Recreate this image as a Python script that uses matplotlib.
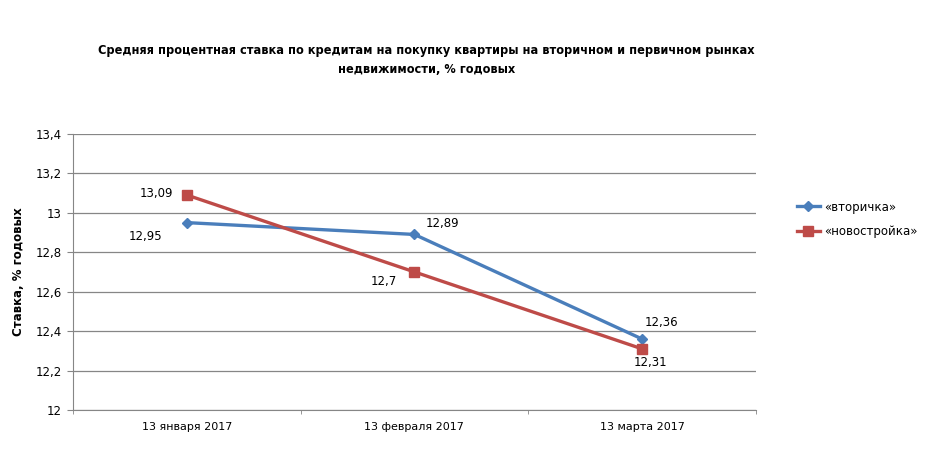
import matplotlib
matplotlib.use("Agg")
import matplotlib.pyplot as plt
from matplotlib.ticker import FixedLocator

# data
dates = ["13 января 2017", "13 февраля 2017", "13 марта 2017"]
vtorichka = [12.95, 12.89, 12.36]
novostroyka = [13.09, 12.7, 12.31]
yticks = [12, 12.2, 12.4, 12.6, 12.8, 13, 13.2, 13.4]
ytick_labels = ["12", "12,2", "12,4", "12,6", "12,8", "13", "13,2", "13,4"]

blue = "#4A7EBB"
red = "#BE4B48"

plt.rcParams["font.family"] = ["DejaVu Sans"]

fig = plt.figure(figsize=(9.38, 4.72), dpi=100)
ax = fig.add_axes([0.0778, 0.1314, 0.728, 0.585])

x = list(range(len(dates)))
ax.plot(x, vtorichka, color=blue, lw=2.4, marker="D", ms=5, label="«вторичка»")
ax.plot(x, novostroyka, color=red, lw=2.4, marker="s", ms=7, label="«новостройка»")

ax.set_xlim(-0.5, 2.5)
ax.set_ylim(12, 13.4)
ax.set_yticks(yticks)
ax.set_yticklabels(ytick_labels, fontsize=8.5)
ax.set_xticks(x)
ax.set_xticklabels(dates, fontsize=8)
ax.tick_params(axis="x", length=0, pad=9)
ax.tick_params(axis="y", length=4, color="#868686", pad=4)
ax.xaxis.set_minor_locator(FixedLocator([-0.5, 0.5, 1.5, 2.5]))
ax.tick_params(axis="x", which="minor", length=3, color="#868686")
ax.grid(axis="y", color="#868686", lw=0.9)
ax.set_axisbelow(True)
for s in ["top", "right"]:
    ax.spines[s].set_visible(False)
for s in ["left", "bottom"]:
    ax.spines[s].set_color("#868686")

# point labels
def lab(xi, yi, txt, dx, dy):
    ax.annotate(txt, (xi, yi), xytext=(dx, dy), textcoords="offset points",
                ha="center", va="center", fontsize=8.5)

fmt = lambda v: ("%g" % v).replace(".", ",")
lab(0, vtorichka[0], fmt(vtorichka[0]), -30, -10)
lab(1, vtorichka[1], fmt(vtorichka[1]), 20, 8)
lab(2, vtorichka[2], fmt(vtorichka[2]), 14, 12)
lab(0, novostroyka[0], fmt(novostroyka[0]), -22, 1)
lab(1, novostroyka[1], fmt(novostroyka[1]), -22, -7)
lab(2, novostroyka[2], fmt(novostroyka[2]), 6, -10)

ax.set_ylabel("Ставка, % годовых", fontsize=8.5, fontweight="bold", labelpad=8)

fig.text(0.455, 0.873, "Средняя процентная ставка по кредитам на покупку квартиры на вторичном и первичном рынках\nнедвижимости, % годовых",
         ha="center", va="center", fontsize=9.1, fontweight="bold",
         family=["Liberation Sans Narrow", "DejaVu Sans"], stretch="condensed",
         linespacing=1.6)

fig.legend(loc="center left", bbox_to_anchor=(0.838, 0.535), frameon=False,
           fontsize=8.5, handlelength=2.0, labelspacing=1.0, handletextpad=0.3)

fig.savefig("out.png", dpi=100)
